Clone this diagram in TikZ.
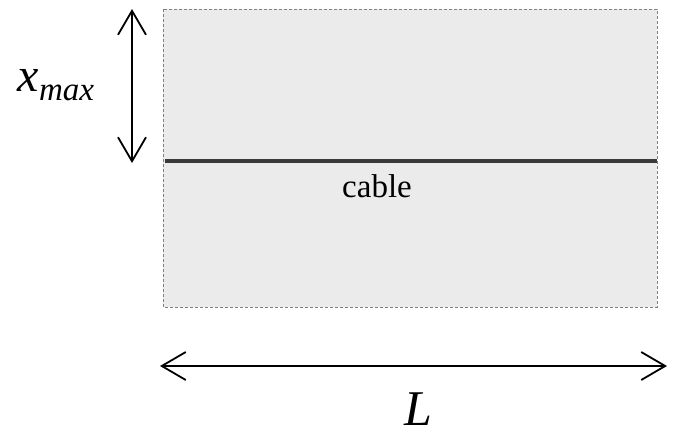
\documentclass[tikz,border=0pt]{standalone}
\usepackage{fontspec}
\setmainfont{Liberation Serif}
\usetikzlibrary{arrows.meta}
\definecolor{feldgrau}{HTML}{EBEBEB}
\definecolor{randgrau}{HTML}{808080}
\definecolor{kabelgrau}{HTML}{3A3A3A}
\tikzset{
	pfeil/.style={line width=1.8pt, {Straight Barb[length=24pt,width=28pt,line width=1.8pt]}-{Straight Barb[length=24pt,width=28pt,line width=1.8pt]}}
}
\begin{document}
\begin{tikzpicture}[x=1pt,y=-1pt]
		\useasboundingbox (0,0) rectangle (675,432);
		
		% Feld
		\draw[randgrau, fill=feldgrau, line width=0.8pt, dash pattern=on 3pt off 2pt] (163,9) rectangle (657,307);
		
		% Kabel
		\coordinate (kabelA) at (165,161);
		\coordinate (kabelB) at (657,161);
		\draw[kabelgrau, line width=4.5pt] (kabelA) -- (kabelB);
		\node (kabel) at (377,186) {\fontsize{33}{33}\selectfont cable};
		
		% Tiefe
		\coordinate (obenA) at (132,9);
		\coordinate (untenA) at (132,163);
		\draw[pfeil] (obenA) -- (untenA);
		\node (xmax) at (56,85) {\fontsize{48}{48}\selectfont\itshape x\raisebox{-9pt}{\fontsize{33}{33}\selectfont max}};
		
		% Laenge
		\coordinate (linksL) at (160,366);
		\coordinate (rechtsL) at (667,366);
		\draw[pfeil] (linksL) -- (rechtsL);
		\node[inner sep=0pt, anchor=base] (laenge) at (418,425) {\fontsize{50}{50}\selectfont\itshape L};
	\end{tikzpicture}
\end{document}
